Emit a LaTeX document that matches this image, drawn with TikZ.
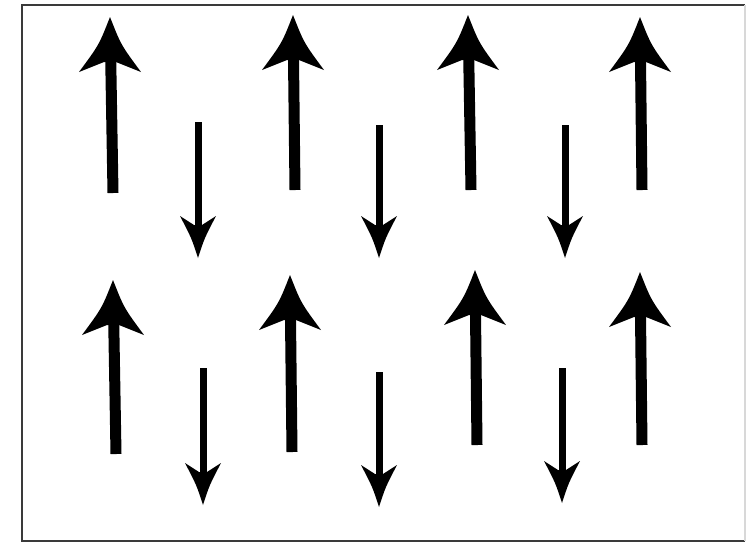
\documentclass[tikz,border=0pt]{standalone}
\usetikzlibrary{calc}
\definecolor{framedark}{HTML}{3A3A3A}
\definecolor{framelight}{HTML}{D8D8D8}
\tikzset{
  bigshaft/.style={line width=11pt, black, line cap=butt, shorten >=40pt},
  smallshaft/.style={line width=7pt, black, line cap=butt, shorten >=30pt},
  bighead/.pic={\fill[black] (0,0) .. controls (11,28) .. (31,55) -- (6,45) -- (-6,45) -- (-31,55) .. controls (-11,28) .. (0,0) -- cycle;},
  smallhead/.pic={\fill[black] (0,0) .. controls (-6.5,-20) .. (-18,-42) -- (-4,-33) -- (4,-33) -- (18,-42) .. controls (6.5,-20) .. (0,0) -- cycle;},
  framebox/.style={line width=2pt, framedark},
}
\begin{document}
\begin{tikzpicture}[x=1pt,y=-1pt]
\useasboundingbox (0,0) rectangle (747,542);
\fill[white] (0,0) rectangle (747,542);
% frame
\coordinate (fTL) at (22,5);
\coordinate (fTR) at (745,5);
\coordinate (fBL) at (22,540.5);
\coordinate (fBR) at (745,540.5);
\draw[framebox] (fTR) -- (fTL) -- (fBL) -- (fBR);
\draw[line width=1.5pt, framelight] (fTR) -- (fBR);
% row 1 up arrows
\coordinate (u1t) at (113,193); \coordinate (u1h) at (110,17);
\coordinate (u2t) at (295,190); \coordinate (u2h) at (293,15);
\coordinate (u3t) at (471,190); \coordinate (u3h) at (468,15);
\coordinate (u4t) at (642,190); \coordinate (u4h) at (640,17);
% row 2 up arrows
\coordinate (u5t) at (116,454); \coordinate (u5h) at (113,280);
\coordinate (u6t) at (292,452); \coordinate (u6h) at (290,275);
\coordinate (u7t) at (477,445); \coordinate (u7h) at (475,270);
\coordinate (u8t) at (642,445); \coordinate (u8h) at (640,272);
% row 1 down arrows
\coordinate (d1t) at (198,122); \coordinate (d1h) at (198,258);
\coordinate (d2t) at (379,125); \coordinate (d2h) at (379,258);
\coordinate (d3t) at (565,125); \coordinate (d3h) at (565,258);
% row 2 down arrows
\coordinate (d4t) at (203,368); \coordinate (d4h) at (203,505);
\coordinate (d5t) at (379,372); \coordinate (d5h) at (379,507);
\coordinate (d6t) at (562,368); \coordinate (d6h) at (562,503);
\foreach \i in {1,...,8}{
  \draw[bigshaft] (u\i t) -- (u\i h);
  \pic at (u\i h) {bighead};
}
\foreach \i in {1,...,6}{
  \draw[smallshaft] (d\i t) -- (d\i h);
  \pic at (d\i h) {smallhead};
}
\end{tikzpicture}
\end{document}
